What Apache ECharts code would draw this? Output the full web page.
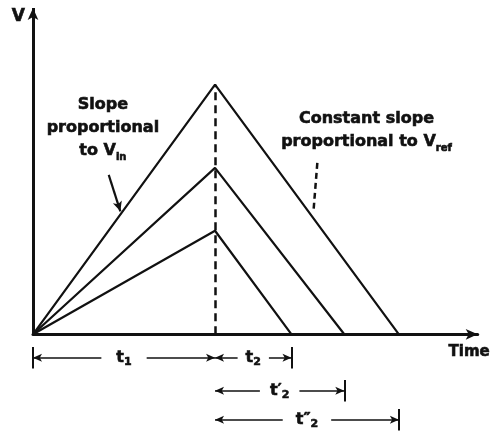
<!DOCTYPE html>
<html>
<head>
<meta charset="utf-8">
<title>Dual slope integrator output</title>
<script src="https://cdn.jsdelivr.net/npm/echarts@6/dist/echarts.min.js"></script>
<style>
  html, body { margin: 0; padding: 0; background: #fff; }
  #main { width: 493px; height: 437px; }
</style>
</head>
<body>
<div id="main"></div>
<script type="text/javascript">
// run-up time t1 and the three integrator ramps (arbitrary units)
var t1 = 10;
var rampNames = ['high Vin', 'mid Vin', 'low Vin'];
var peakV = [13.5, 9.0, 5.6];
var zeroT = [20.1, 17.1, 14.2];
// dimension labels under the time axis: t1, t2, t'2, t''2
var dimLabels = ['{m|t}{s|1}', '{m|t}{s|2}', '{m|t\u2032}{s|2}', '{m|t\u2033}{s|2}'];

var ink = '#111';
var font = 'DejaVu Sans';
var heavy = { textBorderColor: ink, textBorderWidth: 0.6 };

var myChart = echarts.init(document.getElementById('main'));

var rampSeries = rampNames.map(function (n, i) {
  return {
    name: n,
    type: 'line',
    symbol: 'none',
    silent: true,
    lineStyle: { color: ink, width: 2.2 },
    data: [[0, 0], [t1, peakV[i]], [zeroT[i], 0]]
  };
});

function txt(o) {
  return Object.assign({ fontWeight: 'bold', fontFamily: font, color: ink }, heavy, o);
}

var dimRich = {
  m: txt({ fontSize: 16, lineHeight: 20 }),
  s: txt({ fontSize: 11, lineHeight: 11, verticalAlign: 'bottom' })
};

function seg(a, b, style, syms, size) {
  syms = syms || ['none', 'none'];
  return [
    { coord: a, symbol: syms[0], symbolSize: size || 8, lineStyle: style },
    { coord: b, symbol: syms[1], symbolSize: size || 8 }
  ];
}

// dimension line |<-- label -->|
function dim(x0, x1, y, text, pad) {
  return [
    {
      coord: [x0, y], symbol: 'arrow', symbolSize: [6, 9],
      lineStyle: { color: ink, width: 1.5, type: 'solid' },
      label: {
        show: true, position: 'middle', distance: 0, verticalAlign: 'middle', align: 'center',
        formatter: text, backgroundColor: '#fff', padding: [0, pad], rich: dimRich
      }
    },
    { coord: [x1, y], symbol: 'arrow', symbolSize: [6, 9] }
  ];
}

var rowY = [-1.27, -3.05, -4.62];
var tickH = 0.58;
var thin = { color: ink, width: 2, type: 'solid' };

var guideLines = [
  // V axis
  seg([0, 0], [0, 17.65], { color: ink, width: 3, type: 'solid' }, ['none', 'arrow'], [8, 12]),
  // end of run-up
  seg([t1, 0], [t1, peakV[0]], { color: ink, width: 2.5, type: [8, 5] }),
  seg([t1, 0], [t1, -5.6], { color: ink, width: 2.2, type: 'solid' }),
  // end ticks
  seg([0, rowY[0] + tickH], [0, rowY[0] - tickH], thin),
  seg([zeroT[2], rowY[0] + tickH], [zeroT[2], rowY[0] - tickH], thin),
  seg([zeroT[1], rowY[1] + tickH], [zeroT[1], rowY[1] - tickH], thin),
  seg([zeroT[0], rowY[2] + tickH], [zeroT[0], rowY[2] - tickH], thin),
  // dimension lines
  dim(0, t1, rowY[0], dimLabels[0], 15),
  dim(t1, zeroT[2], rowY[0], dimLabels[1], 8),
  dim(t1, zeroT[1], rowY[1], dimLabels[2], 10),
  dim(t1, zeroT[0], rowY[2], dimLabels[3], 13),
  // pointers from the notes
  seg([4.16, 8.62], [4.8, 6.65], { color: ink, width: 2.2, type: 'solid' }, ['none', 'arrow'], [7, 10]),
  seg([15.62, 9.27], [15.42, 6.8], { color: ink, width: 2.5, type: [6, 4] })
];

var noteRich = {
  b: txt({ fontSize: 16, lineHeight: 23 }),
  s: txt({ fontSize: 10, lineHeight: 12, verticalAlign: 'bottom' })
};

var option = {
  animation: false,
  grid: { left: 33, right: 8, top: 7, bottom: 1 },
  xAxis: {
    type: 'value', min: 0, max: 24.43,
    name: 'Time', nameLocation: 'end', nameGap: 12,
    nameTextStyle: txt({ fontSize: 15, align: 'right', verticalAlign: 'top', padding: [10, 0, 0, 0] }),
    axisLine: { onZero: true, symbol: ['none', 'arrow'], symbolSize: [8, 12], lineStyle: { color: ink, width: 3 } },
    axisTick: { show: false }, axisLabel: { show: false }, splitLine: { show: false }
  },
  yAxis: {
    type: 'value', min: -5.5, max: 17.7,
    name: 'V', nameLocation: 'end', nameGap: -10,
    nameTextStyle: txt({ fontSize: 17, align: 'right', verticalAlign: 'middle', padding: [0, 8, 0, 0] }),
    axisLine: { show: false }, axisTick: { show: false }, axisLabel: { show: false }, splitLine: { show: false }
  },
  series: rampSeries.concat([
    {
      name: 'guides',
      type: 'scatter',
      symbolSize: 1,
      silent: true,
      itemStyle: { color: 'rgba(0,0,0,0)', opacity: 1 },
      data: [
        { value: [3.84, 11.16], label: { formatter: '{b|Slope}\n{b|proportional}\n{b|to V}{s|in}' } },
        { value: [18.32, 11.02], label: { formatter: '{b|Constant slope}\n{b|proportional to V}{s|ref}' } }
      ],
      label: { show: true, position: 'inside', align: 'center', verticalAlign: 'middle', color: ink, opacity: 1, rich: noteRich },
      markLine: {
        silent: true,
        symbol: ['none', 'none'],
        label: { show: false },
        lineStyle: { color: ink },
        data: guideLines
      }
    }
  ])
};
myChart.setOption(option);
</script>
</body>
</html>
